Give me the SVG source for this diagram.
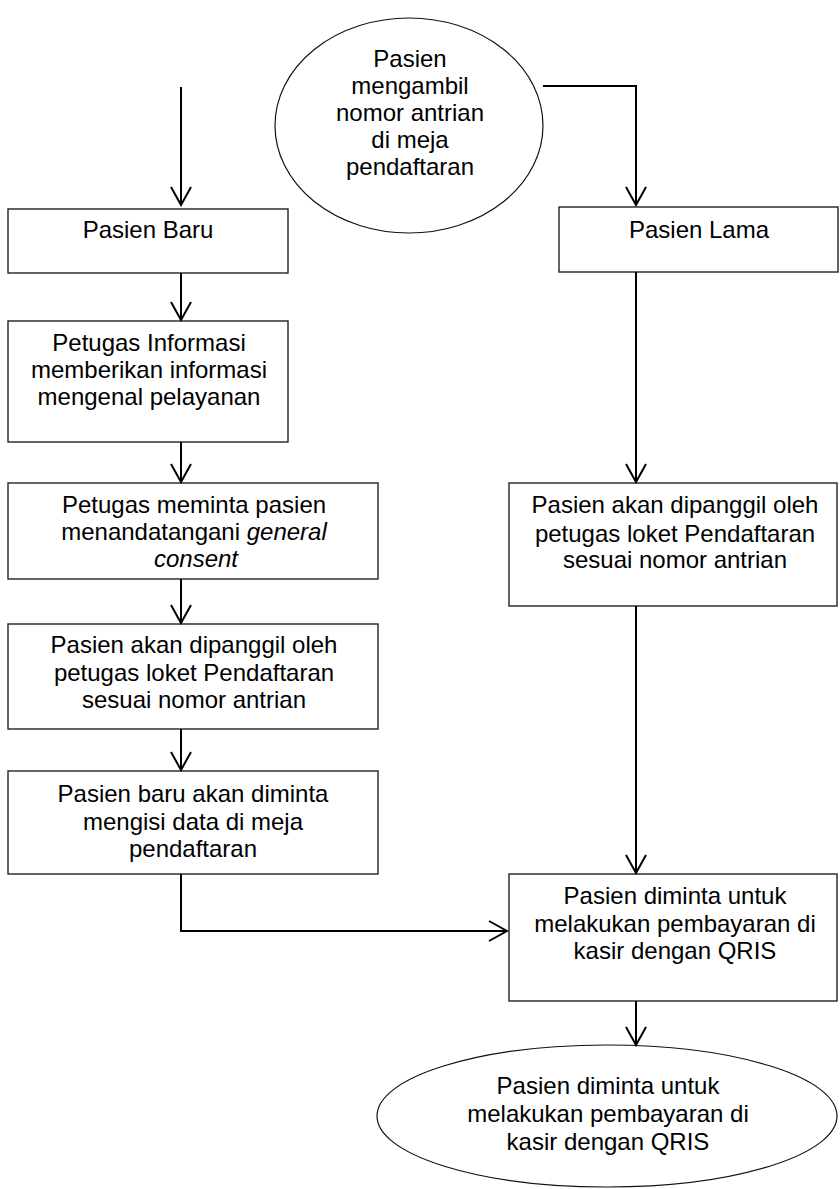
<svg xmlns="http://www.w3.org/2000/svg" width="840" height="1189" viewBox="0 0 840 1189">
<style>
.box{fill:#fff;stroke:#222;stroke-width:1.4}
.oval{fill:#fff;stroke:#111;stroke-width:1.2}
.t{font-family:"Liberation Sans",Arial,sans-serif;font-size:24px;fill:#000;text-anchor:middle}
.c{fill:none;stroke:#000;stroke-width:2;marker-end:url(#arr)}
</style>
<defs>
<marker id="arr" markerUnits="userSpaceOnUse" markerWidth="22" markerHeight="24" viewBox="0 0 22 24" refX="20" refY="12" orient="auto">
<path d="M2,2 L20,12 L2,22" fill="none" stroke="#000" stroke-width="2"/>
</marker>
</defs>
<rect width="840" height="1189" fill="#fff"/>

<g id="start">
<ellipse class="oval" cx="409" cy="125.5" rx="134" ry="107.5"/>
<text class="t" x="410" y="67">Pasien</text>
<text class="t" x="410" y="94">mengambil</text>
<text class="t" x="410" y="121">nomor antrian</text>
<text class="t" x="410" y="148">di meja</text>
<text class="t" x="410" y="175">pendaftaran</text>
</g>

<g id="pasien-baru">
<rect class="box" x="8" y="209" width="280" height="64"/>
<text class="t" x="148" y="238">Pasien Baru</text>
</g>

<g id="informasi">
<rect class="box" x="8" y="321" width="280" height="121"/>
<text class="t" x="149" y="351">Petugas Informasi</text>
<text class="t" x="149" y="378">memberikan informasi</text>
<text class="t" x="149" y="405">mengenal pelayanan</text>
</g>

<g id="consent">
<rect class="box" x="8" y="483" width="370" height="96"/>
<text class="t" x="194" y="513">Petugas meminta pasien</text>
<text class="t" x="194" y="540">menandatangani <tspan font-style="italic">general</tspan></text>
<text class="t" x="196" y="567" font-style="italic">consent</text>
</g>

<g id="dipanggil-baru">
<rect class="box" x="8" y="624" width="370" height="105"/>
<text class="t" x="194" y="653">Pasien akan dipanggil oleh</text>
<text class="t" x="194" y="681">petugas loket Pendaftaran</text>
<text class="t" x="194" y="708">sesuai nomor antrian</text>
</g>

<g id="mengisi-data">
<rect class="box" x="8" y="771" width="370" height="103"/>
<text class="t" x="193" y="802">Pasien baru akan diminta</text>
<text class="t" x="193" y="830">mengisi data di meja</text>
<text class="t" x="193" y="857">pendaftaran</text>
</g>

<g id="pasien-lama">
<rect class="box" x="559" y="207" width="279" height="65"/>
<text class="t" x="699" y="238">Pasien Lama</text>
</g>

<g id="dipanggil-lama">
<rect class="box" x="509" y="483" width="328" height="123"/>
<text class="t" x="675" y="513">Pasien akan dipanggil oleh</text>
<text class="t" x="675" y="542">petugas loket Pendaftaran</text>
<text class="t" x="675" y="568">sesuai nomor antrian</text>
</g>

<g id="pembayaran">
<rect class="box" x="509" y="874" width="328" height="127"/>
<text class="t" x="675" y="904">Pasien diminta untuk</text>
<text class="t" x="675" y="932">melakukan pembayaran di</text>
<text class="t" x="675" y="959">kasir dengan QRIS</text>
</g>

<g id="end">
<ellipse class="oval" cx="607" cy="1116" rx="230" ry="71"/>
<text class="t" x="608" y="1094">Pasien diminta untuk</text>
<text class="t" x="608" y="1122">melakukan pembayaran di</text>
<text class="t" x="608" y="1150">kasir dengan QRIS</text>
</g>

<g id="connectors">
<path class="c" d="M181,87 V205"/>
<path class="c" d="M543,86 H636 V205"/>
<path class="c" d="M181,273 V320"/>
<path class="c" d="M181,442 V482"/>
<path class="c" d="M181,579 V623"/>
<path class="c" d="M181,729 V770"/>
<path class="c" d="M181,874 V931 H507"/>
<path class="c" d="M636,272 V482"/>
<path class="c" d="M636,606 V873"/>
<path class="c" d="M636,1001 V1045"/>
</g>
</svg>
